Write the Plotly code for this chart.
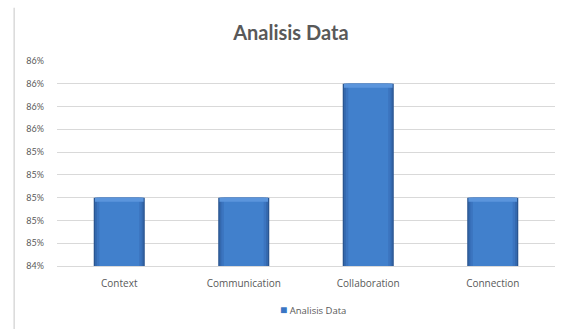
import plotly.graph_objects as go

# Chart data
categories = ["Context", "Communication", "Collaboration", "Connection"]
values = [85.0, 85.0, 86.0, 85.0]
tick_values = [84.4, 84.6, 84.8, 85.0, 85.2, 85.4, 85.6, 85.8, 86.0, 86.2]
tick_labels = ["84%", "85%", "85%", "85%", "85%", "85%", "86%", "86%", "86%", "86%"]
series_name = "Analisis Data"

GRID = "#d9d9d9"
TEXT = "#595959"
FONT = "Lato, 'Open Sans', sans-serif"
WIDE = "'Open Sans', sans-serif"
BAR_BLUE = "#3a76c4"

fig = go.Figure()

# Layered bars give a bevelled, shaded look: dark outer body, lighter core
layers = [
    (0.41, "#2a5590"),
    (0.39, "#3468ad"),
    (0.36, "#3b74bf"),
    (0.32, "#4180cc"),
]
for width, color in layers:
    fig.add_trace(go.Bar(
        x=categories, y=values, width=width, name=series_name,
        marker=dict(color=color, line=dict(width=0)),
        showlegend=False,
    ))

# Light bevel along the top edge of each bar
bevel = 0.035
fig.add_trace(go.Bar(
    x=categories, y=[bevel] * len(values), base=[v - bevel for v in values],
    width=0.39, marker=dict(color="#5b95dc", line=dict(width=0)),
    showlegend=False, hoverinfo="skip",
))

fig.update_layout(
    width=567, height=329,
    barmode="overlay",
    paper_bgcolor="white", plot_bgcolor="white",
    margin=dict(l=57, r=12, t=61, b=63),
    font=dict(family=FONT, color=TEXT, size=9),
    showlegend=False,
    title=dict(text="<b>Analisis Data</b>", x=0.513, xanchor="center",
               y=0.9, yanchor="middle",
               font=dict(family=FONT, size=20, color=TEXT)),
    annotations=[dict(
        text=(f'<span style="color:{BAR_BLUE};font-size:12px">■</span>'
              f' {series_name}'),
        xref="paper", yref="paper", x=0.515, y=-0.21,
        xanchor="center", yanchor="middle", showarrow=False,
        font=dict(family=WIDE, size=9.5, color=TEXT),
    )],
    shapes=[dict(type="line", xref="paper", yref="paper",
                 x0=-0.086, x1=-0.086, y0=-0.31, y1=1.26,
                 line=dict(color=GRID, width=1.5))],
)
fig.update_xaxes(showgrid=False, showline=True, linecolor=GRID, linewidth=1,
                 ticks="", ticklabelstandoff=8,
                 tickfont=dict(family=WIDE, size=10, color=TEXT))
fig.update_yaxes(range=[84.4, 86.2], tickvals=tick_values, ticktext=tick_labels,
                 showgrid=True, gridcolor=GRID, gridwidth=1, zeroline=False,
                 ticks="", ticklabelstandoff=12,
                 tickfont=dict(size=9, color=TEXT))

fig.write_html("out.html")
